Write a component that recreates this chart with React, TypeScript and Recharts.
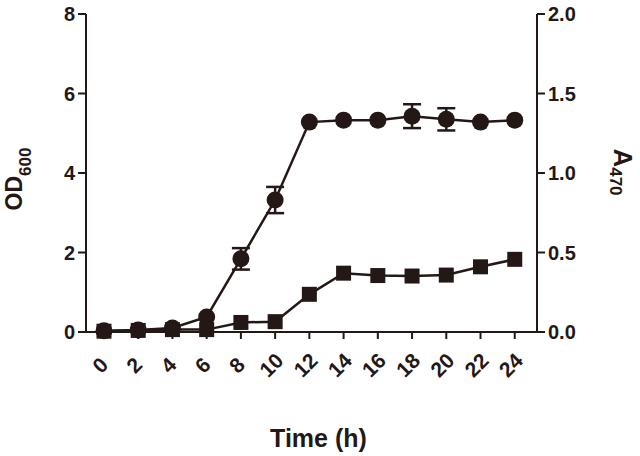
import { ErrorBar, Label, Line, LineChart, XAxis, YAxis } from "recharts";

const hours = [0, 2, 4, 6, 8, 10, 12, 14, 16, 18, 20, 22, 24];
const od600 = [0.03, 0.05, 0.1, 0.38, 1.84, 3.32, 5.28, 5.33, 5.33, 5.43, 5.35, 5.28, 5.33];
const od600Err = [0, 0, 0, 0, 0.27, 0.33, 0, 0, 0, 0.3, 0.28, 0, 0];
const a470 = [0.005, 0.01, 0.015, 0.015, 0.06, 0.065, 0.237, 0.37, 0.355, 0.352, 0.358, 0.41, 0.457];

const leftTicks = [0, 2, 4, 6, 8];
const rightTicks = [0, 0.5, 1, 1.5, 2];

const INK = "#231815";
const FONT = "'Liberation Sans', Arial, sans-serif";

const data = hours.map((h, i) => ({
  hour: h,
  od: od600[i],
  odErr: od600Err[i],
  a470: a470[i],
}));

function TimeTick({ x, y, payload }: any) {
  const cx = x - 4;
  const cy = y + 26;
  return (
    <text
      x={cx}
      y={cy}
      transform={`rotate(-45, ${cx}, ${cy})`}
      textAnchor="middle"
      dominantBaseline="central"
      fill={INK}
      fontFamily={FONT}
      fontWeight="bold"
      fontSize={21}
    >
      {payload.value}
    </text>
  );
}

function SquareDot({ cx, cy, index }: any) {
  if (cx == null || cy == null) return null;
  return <rect key={`sq-${index}`} x={cx - 7.5} y={cy - 7.5} width={15} height={15} fill={INK} />;
}

function LeftTitle({ viewBox }: any) {
  const cx = 22;
  const cy = viewBox.y + viewBox.height / 2 + 6;
  return (
    <text
      x={cx}
      y={cy}
      transform={`rotate(-90, ${cx}, ${cy})`}
      textAnchor="middle"
      fill={INK}
      fontFamily={FONT}
      fontWeight="bold"
      fontSize={23}
    >
      <tspan>OD</tspan>
      <tspan fontSize={17} dy={9}>600</tspan>
    </text>
  );
}

function RightTitle({ viewBox }: any) {
  const cx = 614;
  const cy = viewBox.y + viewBox.height / 2 - 1;
  return (
    <text
      x={cx}
      y={cy}
      transform={`rotate(90, ${cx}, ${cy})`}
      textAnchor="middle"
      fill={INK}
      fontFamily={FONT}
      fontWeight="bold"
      fontSize={26}
    >
      <tspan>A</tspan>
      <tspan fontSize={17} dy={4}>470</tspan>
    </text>
  );
}

export default function App() {
  const tickStyle = { fill: INK, fontSize: 20, fontWeight: "bold", fontFamily: FONT };
  return (
    <div style={{ position: "absolute", left: 0, top: 0, width: 640, height: 456, background: "#fff" }}>
      <LineChart width={640} height={456} data={data} margin={{ top: 14, right: 43, bottom: 64, left: 26 }}>
        <XAxis
          dataKey="hour"
          type="number"
          domain={[-1.05, 25.3]}
          ticks={hours}
          interval={0}
          height={60}
          stroke={INK}
          strokeWidth={2}
          tickSize={7}
          tickMargin={0}
          tick={<TimeTick />}
        >
          <Label
            content={({ viewBox }: any) => (
              <text
                x={viewBox.x + viewBox.width / 2 + 7}
                y={447}
                textAnchor="middle"
                fill={INK}
                fontFamily={FONT}
                fontWeight="bold"
                fontSize={25}
              >
                Time (h)
              </text>
            )}
          />
        </XAxis>
        <YAxis
          yAxisId="left"
          width={60}
          domain={[0, 8]}
          ticks={leftTicks}
          stroke={INK}
          strokeWidth={2}
          tickSize={8}
          tickMargin={3}
          tick={tickStyle}
        >
          <Label content={<LeftTitle />} />
        </YAxis>
        <YAxis
          yAxisId="right"
          orientation="right"
          width={60}
          domain={[0, 2]}
          ticks={rightTicks}
          tickFormatter={(v: number) => v.toFixed(1)}
          stroke={INK}
          strokeWidth={2}
          tickSize={8}
          tickMargin={3}
          tick={tickStyle}
        >
          <Label content={<RightTitle />} />
        </YAxis>
        <Line
          yAxisId="left"
          dataKey="od"
          stroke={INK}
          strokeWidth={2.5}
          dot={{ r: 8.5, fill: INK, stroke: INK, strokeWidth: 0 }}
          activeDot={false}
          isAnimationActive={false}
        >
          <ErrorBar dataKey="odErr" direction="y" width={9} stroke={INK} strokeWidth={2.5} isAnimationActive={false} />
        </Line>
        <Line
          yAxisId="right"
          dataKey="a470"
          stroke={INK}
          strokeWidth={2.5}
          dot={<SquareDot />}
          activeDot={false}
          isAnimationActive={false}
        />
      </LineChart>
    </div>
  );
}
